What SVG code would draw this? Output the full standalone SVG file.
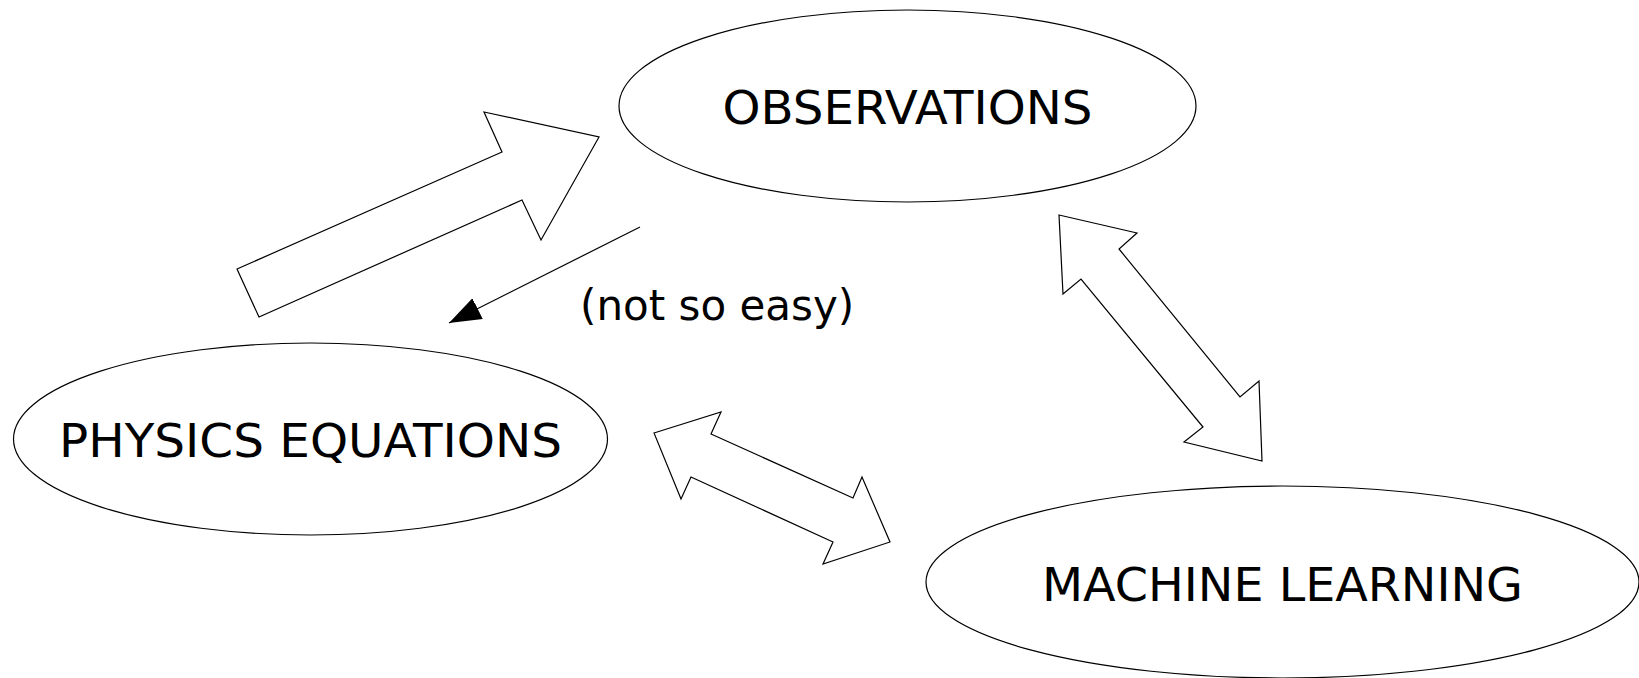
<svg xmlns="http://www.w3.org/2000/svg" width="1639" height="678" viewBox="0 0 1639 678">
<style>
.node ellipse{fill:#fff;stroke:#000;stroke-width:1.2}
.lbl{font-family:"DejaVu Sans","Liberation Sans",sans-serif;font-size:47px;fill:#000;text-anchor:middle}
.big{fill:#fff;stroke:#000;stroke-width:1.2;stroke-linejoin:miter}
.thin{fill:none;stroke:#000;stroke-width:1.2}
</style>
<defs>
<marker id="ah" markerUnits="userSpaceOnUse" markerWidth="32" markerHeight="24" viewBox="0 -12 32 24" refX="32" refY="0" orient="auto">
<path d="M0,-11.5 L32,0 L0,11.5 z" fill="#000"/>
</marker>
</defs>
<rect width="1639" height="678" fill="#fff"/>
<g id="observations" class="node">
<ellipse cx="907.5" cy="106" rx="288.5" ry="96"/>
<text class="lbl" x="907.5" y="124" textLength="370" lengthAdjust="spacingAndGlyphs">OBSERVATIONS</text>
</g>
<g id="physics" class="node">
<ellipse cx="310.5" cy="439" rx="297" ry="96"/>
<text class="lbl" x="310.5" y="457" textLength="503" lengthAdjust="spacingAndGlyphs">PHYSICS EQUATIONS</text>
</g>
<g id="ml" class="node">
<ellipse cx="1282.5" cy="582" rx="356.5" ry="96"/>
<text class="lbl" x="1282.5" y="601" textLength="481" lengthAdjust="spacingAndGlyphs">MACHINE LEARNING</text>
</g>
<g id="connectors">
<polygon class="big" points="237,269 502,152 484,112 599,137 541,240 522,200 259,317"/>
<polygon class="big" points="1059,215 1137,233 1119,249 1240,397 1259,381 1262,461 1184,442 1203,427 1081,279 1063,294"/>
<polygon class="big" points="654,433 721,412 711,434 853,498 862,477 890,542 823,564 833,542 691,477 681,499"/>
<line class="thin" x1="640" y1="227" x2="449" y2="323" marker-end="url(#ah)"/>
<text x="580" y="320" font-family="DejaVu Sans, Liberation Sans, sans-serif" font-size="42" fill="#000">(not so easy)</text>
</g>
</svg>
